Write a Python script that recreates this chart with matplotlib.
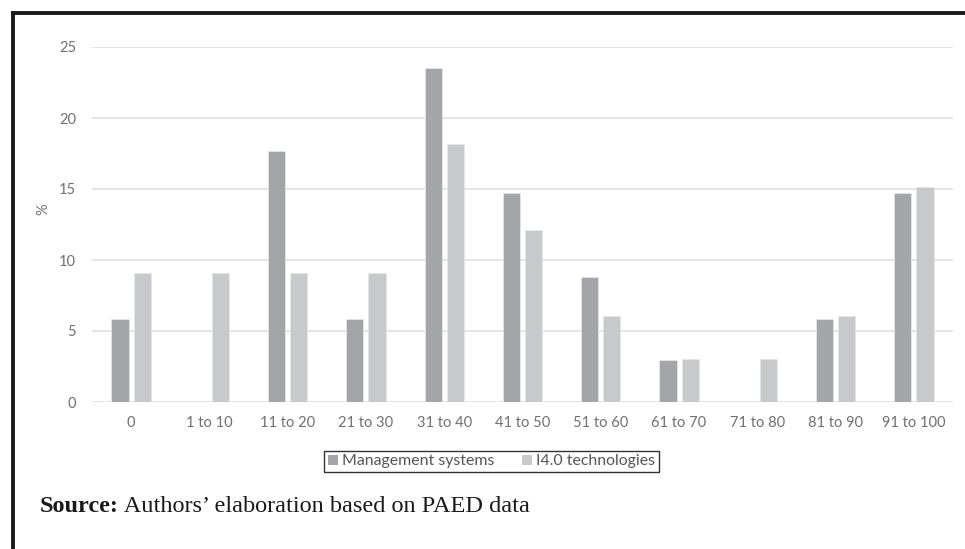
import matplotlib
matplotlib.use("Agg")
import matplotlib.pyplot as plt
from matplotlib.patches import Patch
from matplotlib.lines import Line2D
import numpy as np

categories = ["0", "1 to 10", "11 to 20", "21 to 30", "31 to 40", "41 to 50",
              "51 to 60", "61 to 70", "71 to 80", "81 to 90", "91 to 100"]
management = [5.88, 0, 17.65, 5.88, 23.53, 14.71, 8.82, 2.94, 0, 5.88, 14.71]
i40 = [9.09, 9.09, 9.09, 9.09, 18.18, 12.12, 6.06, 3.03, 3.03, 6.06, 15.15]
yticks = [0, 5, 10, 15, 20, 25]
series_names = ["Management systems", "I4.0 technologies"]

W, H = 965, 549
fig = plt.figure(figsize=(W / 100, H / 100), dpi=100)
ax = fig.add_axes([92 / W, 1 - 402 / H, (953 - 92) / W, (402 - 47) / H])

dark = "#A4A5A9"
light = "#C8C9CB"
txt = "#707070"
font = "Lato"

x = np.arange(len(categories))
bw = 0.22
off = 0.142
ax.bar(x - off, management, width=bw, color=dark, edgecolor="#E6E6E6", linewidth=0.6, zorder=3)
ax.bar(x + off, i40, width=bw, color=light, edgecolor="#E6E6E6", linewidth=0.6, zorder=3)

ax.set_xlim(-0.5, len(categories) - 0.5)
ax.set_ylim(0, 25)
ax.set_yticks(yticks)
ax.set_yticklabels([str(t) for t in yticks], fontfamily=font, fontsize=10.5, color=txt)
ax.set_xticks(x)
ax.set_xticklabels(categories, fontfamily=font, fontsize=10.5, color=txt)
ax.tick_params(axis="both", length=0)
ax.tick_params(axis="y", pad=11.5)
ax.tick_params(axis="x", pad=10)
ax.grid(axis="y", color="#E0E0E0", linewidth=1.2, zorder=0)
ax.set_axisbelow(True)
for s in ax.spines.values():
    s.set_visible(False)

fig.text(43 / W, 1 - 209 / H, "%", rotation=90, ha="center", va="center",
         fontfamily=font, fontsize=10.5, color=txt)

handles = [Patch(facecolor=dark, edgecolor="none"), Patch(facecolor=light, edgecolor="none")]
leg = fig.legend(handles, series_names, loc="center", bbox_to_anchor=(491.5 / W, 1 - 461.5 / H),
                 ncol=2, frameon=True, fancybox=False, handlelength=0.65, handleheight=0.65,
                 handletextpad=0.25, columnspacing=1.7, borderpad=0.25, borderaxespad=0,
                 prop={"family": font, "size": 11.4})
leg.get_frame().set_edgecolor("black")
leg.get_frame().set_linewidth(1.0)
for t in leg.get_texts():
    t.set_color("#555555")

t1 = fig.text(40 / W, 1 - 507 / H, "Source:", ha="left", va="center", fontfamily="Liberation Serif",
              fontweight="bold", fontsize=17.5, color="#1a1a1a")
fig.canvas.draw()
ax.annotate(" Authors\u2019 elaboration based on PAED data", xy=(1, 0), xycoords=t1,
            ha="left", va="bottom", fontfamily="Liberation Serif", fontsize=17.5, color="#1a1a1a",
            annotation_clip=False)

# frame (left and top borders)
fig.add_artist(Line2D([13 / W, 13 / W], [0, 1 - 13 / H], transform=fig.transFigure,
                      color="#1a1a1a", linewidth=2.8, solid_capstyle="projecting"))
fig.add_artist(Line2D([13 / W, 1], [1 - 13 / H, 1 - 13 / H], transform=fig.transFigure,
                      color="#1a1a1a", linewidth=2.8, solid_capstyle="projecting"))

fig.savefig("out.png", dpi=100)
